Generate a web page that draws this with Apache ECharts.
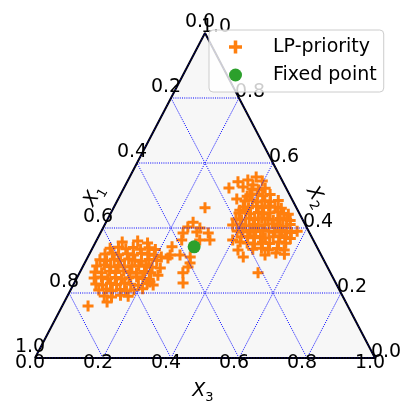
<!DOCTYPE html>
<html><head><meta charset="utf-8">
<script src="https://cdn.jsdelivr.net/npm/echarts@6/dist/echarts.min.js"></script>
<style>html,body{margin:0;padding:0;background:#fff}#c{width:416px;height:417px}</style>
</head><body><div id="c"></div>
<script>
// ternary tick values / labels
const tickValues = [0, 0.2, 0.4, 0.6, 0.8, 1.0];
const tickLabels = ['0.0', '0.2', '0.4', '0.6', '0.8', '1.0'];
const gridValues = [0.2, 0.4, 0.6, 0.8];
const axisTitles = ['X', 'X', 'X'];
const axisSubs = ['1', '2', '3'];
const seriesNames = ['LP-priority', 'Fixed point'];

// data points as [X2, X3]  (X1 = 1 - X2 - X3)
const lpRight = [
[0.542,0.326],[0.548,0.352],[0.557,0.372],[0.523,0.309],[0.526,0.349],[0.532,0.375],[0.489,0.349],[0.498,0.375],[0.455,0.375],[0.545,0.396],
[0.520,0.378],[0.517,0.399],[0.522,0.416],
[0.502,0.381],[0.505,0.402],[0.499,0.420],[0.503,0.440],
[0.483,0.376],[0.486,0.396],[0.480,0.414],[0.484,0.434],[0.481,0.452],[0.485,0.473],
[0.465,0.380],[0.462,0.397],[0.467,0.418],[0.463,0.436],[0.468,0.453],[0.464,0.474],[0.461,0.494],
[0.446,0.377],[0.449,0.395],[0.444,0.412],[0.448,0.433],[0.443,0.451],[0.447,0.468],[0.450,0.489],[0.445,0.509],[0.442,0.524],
[0.428,0.377],[0.425,0.395],[0.430,0.415],[0.426,0.433],[0.431,0.451],[0.427,0.471],[0.424,0.489],[0.429,0.507],[0.426,0.527],[0.423,0.539],
[0.409,0.377],[0.412,0.398],[0.407,0.416],[0.411,0.436],[0.406,0.454],[0.410,0.471],[0.413,0.492],[0.408,0.510],[0.405,0.527],[0.411,0.545],
[0.391,0.399],[0.388,0.417],[0.393,0.437],[0.389,0.455],[0.394,0.473],[0.390,0.493],[0.387,0.511],[0.392,0.529],[0.389,0.546],[0.386,0.561],[0.390,0.576],
[0.372,0.420],[0.375,0.438],[0.370,0.458],[0.374,0.476],[0.369,0.493],[0.373,0.514],[0.376,0.532],[0.371,0.549],[0.368,0.567],
[0.354,0.447],[0.351,0.470],[0.356,0.491],[0.352,0.514],[0.357,0.538],[0.353,0.561],
[0.335,0.473],[0.338,0.497],[0.333,0.520],[0.337,0.544],[0.332,0.567],
[0.357,0.425],[0.332,0.431],[0.311,0.457],[0.262,0.525],[0.317,0.518],[0.323,0.547],[0.363,0.400],[0.319,0.574]
];
const lpLeft = [
[0.357,0.078],[0.360,0.122],[0.354,0.154],
[0.338,0.052],[0.341,0.075],[0.336,0.099],[0.340,0.119],[0.335,0.143],[0.339,0.166],[0.334,0.187],
[0.320,0.046],[0.323,0.066],[0.318,0.087],[0.321,0.111],[0.317,0.131],[0.322,0.152],[0.319,0.172],[0.316,0.193],
[0.302,0.040],[0.299,0.061],[0.304,0.081],[0.300,0.102],[0.305,0.123],[0.301,0.143],[0.298,0.164],[0.303,0.184],[0.300,0.208],
[0.283,0.040],[0.286,0.061],[0.281,0.082],[0.285,0.102],[0.280,0.123],[0.284,0.143],[0.282,0.164],[0.287,0.184],[0.279,0.205],
[0.265,0.044],[0.262,0.065],[0.267,0.086],[0.263,0.106],[0.268,0.127],[0.264,0.147],[0.261,0.168],[0.266,0.189],[0.262,0.209],
[0.246,0.051],[0.249,0.071],[0.244,0.092],[0.248,0.112],[0.243,0.133],[0.247,0.153],[0.250,0.174],[0.245,0.195],[0.242,0.215],
[0.228,0.065],[0.225,0.086],[0.230,0.107],[0.226,0.127],[0.231,0.148],[0.227,0.168],[0.224,0.192],[0.229,0.215],
[0.209,0.083],[0.212,0.104],[0.207,0.124],[0.211,0.145],[0.206,0.166],[0.210,0.186],[0.213,0.210],
[0.191,0.108],[0.188,0.131],[0.193,0.155],[0.190,0.179],
[0.172,0.126],[0.160,0.076],[0.225,0.235]
];
const lpMiddle = [
[0.462,0.269],[0.418,0.256],[0.403,0.248],[0.400,0.285],[0.385,0.243],[0.385,0.317],[0.363,0.333],[0.363,0.303],
[0.363,0.250],[0.342,0.232],[0.317,0.239],[0.317,0.268],[0.311,0.216],[0.311,0.301],[0.280,0.310],[0.262,0.304],
[0.308,0.237],[0.277,0.230],[0.255,0.234],[0.234,0.221],[0.388,0.282],[0.292,0.310],[0.231,0.320]
];
const fixedPoint = [[0.342, 0.297]];

// ternary -> cartesian (X1 at bottom-left, X3 at bottom-right, X2 at top)
function toXY(x2, x3) { return [x3 + x2 / 2, x2]; }

const FONT = 'DejaVu Sans';
const plusPath = 'path://M4,0h3v4h4v3h-4v4h-3v-4h-4v-3h4z';
const series = [];

// background triangle
series.push({
  type: 'line', z: 1, silent: true, symbol: 'none',
  data: [toXY(0, 0), toXY(1, 0), toXY(0, 1)],
  lineStyle: { width: 0 },
  areaStyle: { color: '#f7f7f7', opacity: 1, origin: 'start' }
});

// data
series.push({
  name: seriesNames[0], type: 'scatter', z: 3, symbol: plusPath, symbolSize: 11,
  itemStyle: { color: '#ff7f0e', opacity: 1 },
  data: lpLeft.concat(lpMiddle, lpRight).map(p => toXY(p[0], p[1]))
});
series.push({
  name: seriesNames[1], type: 'scatter', z: 4, symbol: 'circle', symbolSize: 13,
  itemStyle: { color: '#2ca02c', opacity: 1 },
  data: fixedPoint.map(p => toXY(p[0], p[1]))
});

// grid lines
const gl = { color: '#0000ff', width: 1, type: [1, 1.2], opacity: 1 };
function addLine(a, b, style, z) {
  series.push({ type: 'line', z: z, silent: true, symbol: 'none', data: [a, b], lineStyle: style });
}
gridValues.forEach(k => {
  addLine(toXY(k, 0), toXY(k, 1 - k), gl, 5);          // X2 = k
  addLine(toXY(0, k), toXY(1 - k, k), gl, 5);          // X3 = k
  addLine(toXY(0, 1 - k), toXY(1 - k, 0), gl, 5);      // X1 = k
});
// boundary
series.push({
  type: 'line', z: 6, silent: true, symbol: 'none',
  data: [toXY(0, 0), toXY(0, 1), toXY(1, 0), toXY(0, 0)],
  lineStyle: { color: '#000000', width: 2 }
});
series.push({
  type: 'line', z: 7, silent: true, symbol: 'none',
  data: [toXY(0, 0), toXY(0, 1), toXY(1, 0), toXY(0, 0)],
  lineStyle: { color: 'rgba(0,0,255,0.6)', width: 1, type: [1.2, 1.6] }
});

// tick labels
function labelSeries(points, offset, texts, rotate, rich) {
  series.push({
    type: 'scatter', z: 8, silent: true, symbolSize: 1, itemStyle: { color: 'rgba(0,0,0,0)', opacity: 1 },
    data: points.map((p, i) => ({ value: p, name: texts[i] })),
    label: {
      show: true, position: 'inside', offset: offset, rotate: rotate || 0,
      formatter: p => p.name, color: '#000', fontSize: 19, fontFamily: FONT,
      align: 'center', verticalAlign: 'middle', rich: rich || {}
    }
  });
}
// left axis: X1 values
labelSeries(tickValues.map(t => toXY(1 - t, 0)), [-5, -11], tickLabels);
// right axis: X2 values
labelSeries(tickValues.map(t => toXY(t, 1 - t)), [11, -6], tickLabels);
// bottom axis: X3 values
labelSeries(tickValues.map(t => toXY(0, t)), [-5, 5], tickLabels);

// axis titles (offsets are in the rotated label frame)
const rich = {
  x: { fontStyle: 'italic', fontSize: 19, fontFamily: FONT, lineHeight: 26, color: '#000' },
  s: { fontSize: 13, fontFamily: FONT, verticalAlign: 'bottom', lineHeight: 14, color: '#000' }
};
function title(i) { return '{x|' + axisTitles[i] + '}{s|' + axisSubs[i] + '}'; }
labelSeries([toXY(0.5, 0)], [-13, -22.5], [title(0)], 60, rich);
labelSeries([toXY(0.5, 0.5)], [14.3, -21.8], [title(1)], -60, rich);
labelSeries([toXY(0, 0.5)], [-2, 33], [title(2)], 0, rich);

const chart = echarts.init(document.getElementById('c'), null, { renderer: 'canvas' });
chart.setOption({
  animation: false,
  backgroundColor: '#ffffff',
  grid: { left: 35, right: 41, top: 33, bottom: 59 },
  xAxis: { type: 'value', min: 0, max: 1, show: false },
  yAxis: { type: 'value', min: 0, max: 1, show: false },
  legend: {
    z: 20,
    orient: 'vertical', left: 209, top: 30, padding: [7, 7, 7, 20],
    itemWidth: 13, itemHeight: 13, itemGap: 8,
    backgroundColor: 'rgba(255,255,255,0.8)', borderColor: '#cccccc', borderWidth: 1, borderRadius: 4,
    textStyle: { fontSize: 19, fontFamily: FONT, color: '#000', padding: [0, 0, 0, 26], lineHeight: 20 },
    data: [{ name: seriesNames[0], icon: plusPath }, { name: seriesNames[1], icon: 'circle' }]
  },
  series: series
});
</script></body></html>
